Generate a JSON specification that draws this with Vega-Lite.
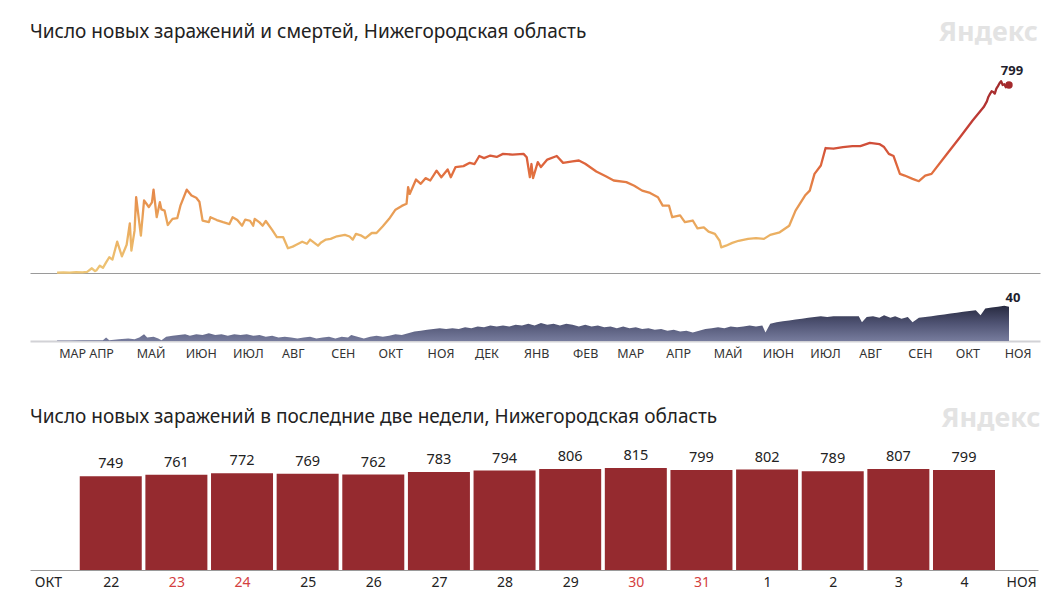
{
  "$schema": "https://vega.github.io/schema/vega-lite/v6.json",
  "background": "white",
  "padding": {"left": 30, "top": 18, "right": 8, "bottom": 0},
  "bounds": "flush",
  "spacing": 29,
  "title": {"text": "Яндекс", "anchor": "end", "offset": -44.6, "dx": -2, "font": "Noto Sans", "fontSize": 27, "fontWeight": "bold", "color": "#e3e3e3", "baseline": "alphabetic"},
  "config": {
    "view": {"stroke": null},
    "font": "Noto Sans",
    "title": {"font": "Noto Sans", "fontSize": 19, "fontWeight": "normal", "color": "#222222", "anchor": "start", "baseline": "alphabetic"}
  },
  "datasets": {
    "cases": [
      {"date": "2020-03-12", "cases": 2}, {"date": "2020-03-16", "cases": 3}, {"date": "2020-03-20", "cases": 2}, {"date": "2020-03-24", "cases": 4},
      {"date": "2020-03-28", "cases": 3}, {"date": "2020-03-31", "cases": 5}, {"date": "2020-04-03", "cases": 20}, {"date": "2020-04-05", "cases": 8},
      {"date": "2020-04-06", "cases": 12}, {"date": "2020-04-08", "cases": 31}, {"date": "2020-04-10", "cases": 22}, {"date": "2020-04-12", "cases": 45},
      {"date": "2020-04-14", "cases": 67}, {"date": "2020-04-16", "cases": 57}, {"date": "2020-04-19", "cases": 133}, {"date": "2020-04-22", "cases": 71},
      {"date": "2020-04-25", "cases": 120}, {"date": "2020-04-27", "cases": 211}, {"date": "2020-04-28", "cases": 95}, {"date": "2020-04-30", "cases": 180},
      {"date": "2020-05-01", "cases": 322}, {"date": "2020-05-04", "cases": 159}, {"date": "2020-05-06", "cases": 308}, {"date": "2020-05-08", "cases": 290},
      {"date": "2020-05-09", "cases": 280}, {"date": "2020-05-11", "cases": 300}, {"date": "2020-05-12", "cases": 354}, {"date": "2020-05-14", "cases": 237},
      {"date": "2020-05-16", "cases": 301}, {"date": "2020-05-17", "cases": 270}, {"date": "2020-05-19", "cases": 265}, {"date": "2020-05-21", "cases": 204},
      {"date": "2020-05-24", "cases": 230}, {"date": "2020-05-27", "cases": 233}, {"date": "2020-05-29", "cases": 286}, {"date": "2020-06-02", "cases": 354},
      {"date": "2020-06-05", "cases": 329}, {"date": "2020-06-08", "cases": 320}, {"date": "2020-06-10", "cases": 303}, {"date": "2020-06-12", "cases": 223},
      {"date": "2020-06-16", "cases": 216}, {"date": "2020-06-17", "cases": 237}, {"date": "2020-06-21", "cases": 225}, {"date": "2020-06-25", "cases": 216},
      {"date": "2020-06-29", "cases": 208}, {"date": "2020-07-01", "cases": 237}, {"date": "2020-07-04", "cases": 225}, {"date": "2020-07-07", "cases": 201},
      {"date": "2020-07-09", "cases": 227}, {"date": "2020-07-12", "cases": 222}, {"date": "2020-07-14", "cases": 201}, {"date": "2020-07-15", "cases": 230},
      {"date": "2020-07-18", "cases": 215}, {"date": "2020-07-20", "cases": 201}, {"date": "2020-07-22", "cases": 221}, {"date": "2020-07-26", "cases": 183},
      {"date": "2020-07-29", "cases": 152}, {"date": "2020-08-02", "cases": 152}, {"date": "2020-08-05", "cases": 105}, {"date": "2020-08-08", "cases": 112},
      {"date": "2020-08-10", "cases": 119}, {"date": "2020-08-14", "cases": 133}, {"date": "2020-08-17", "cases": 124}, {"date": "2020-08-19", "cases": 142},
      {"date": "2020-08-24", "cases": 116}, {"date": "2020-08-26", "cases": 130}, {"date": "2020-08-29", "cases": 142}, {"date": "2020-09-01", "cases": 145},
      {"date": "2020-09-05", "cases": 156}, {"date": "2020-09-10", "cases": 162}, {"date": "2020-09-13", "cases": 155}, {"date": "2020-09-15", "cases": 142},
      {"date": "2020-09-17", "cases": 166}, {"date": "2020-09-20", "cases": 160}, {"date": "2020-09-23", "cases": 148}, {"date": "2020-09-27", "cases": 170},
      {"date": "2020-09-30", "cases": 170}, {"date": "2020-10-04", "cases": 199}, {"date": "2020-10-08", "cases": 230}, {"date": "2020-10-12", "cases": 269},
      {"date": "2020-10-16", "cases": 285}, {"date": "2020-10-19", "cases": 294}, {"date": "2020-10-20", "cases": 365}, {"date": "2020-10-21", "cases": 336},
      {"date": "2020-10-25", "cases": 397}, {"date": "2020-10-28", "cases": 379}, {"date": "2020-10-31", "cases": 403}, {"date": "2020-11-03", "cases": 393},
      {"date": "2020-11-07", "cases": 435}, {"date": "2020-11-10", "cases": 407}, {"date": "2020-11-14", "cases": 440}, {"date": "2020-11-16", "cases": 407},
      {"date": "2020-11-19", "cases": 450}, {"date": "2020-11-24", "cases": 454}, {"date": "2020-11-28", "cases": 468}, {"date": "2020-12-01", "cases": 463},
      {"date": "2020-12-04", "cases": 497}, {"date": "2020-12-07", "cases": 488}, {"date": "2020-12-11", "cases": 499}, {"date": "2020-12-15", "cases": 493},
      {"date": "2020-12-19", "cases": 506}, {"date": "2020-12-25", "cases": 503}, {"date": "2021-01-01", "cases": 506}, {"date": "2021-01-03", "cases": 492},
      {"date": "2021-01-05", "cases": 407}, {"date": "2021-01-06", "cases": 463}, {"date": "2021-01-07", "cases": 403}, {"date": "2021-01-10", "cases": 471},
      {"date": "2021-01-12", "cases": 450}, {"date": "2021-01-16", "cases": 482}, {"date": "2021-01-22", "cases": 497}, {"date": "2021-01-26", "cases": 468},
      {"date": "2021-02-01", "cases": 474}, {"date": "2021-02-05", "cases": 478}, {"date": "2021-02-09", "cases": 464}, {"date": "2021-02-16", "cases": 431},
      {"date": "2021-02-22", "cases": 411}, {"date": "2021-02-27", "cases": 393}, {"date": "2021-03-07", "cases": 386}, {"date": "2021-03-12", "cases": 371},
      {"date": "2021-03-17", "cases": 350}, {"date": "2021-03-22", "cases": 340}, {"date": "2021-03-27", "cases": 322}, {"date": "2021-03-30", "cases": 286},
      {"date": "2021-04-03", "cases": 286}, {"date": "2021-04-05", "cases": 237}, {"date": "2021-04-10", "cases": 245}, {"date": "2021-04-13", "cases": 216},
      {"date": "2021-04-18", "cases": 223}, {"date": "2021-04-21", "cases": 190}, {"date": "2021-04-25", "cases": 194}, {"date": "2021-04-28", "cases": 176},
      {"date": "2021-05-02", "cases": 166}, {"date": "2021-05-05", "cases": 137}, {"date": "2021-05-06", "cases": 109}, {"date": "2021-05-09", "cases": 116},
      {"date": "2021-05-13", "cases": 128}, {"date": "2021-05-17", "cases": 137}, {"date": "2021-05-23", "cases": 145}, {"date": "2021-05-28", "cases": 148},
      {"date": "2021-06-02", "cases": 145}, {"date": "2021-06-06", "cases": 162}, {"date": "2021-06-12", "cases": 173}, {"date": "2021-06-18", "cases": 201},
      {"date": "2021-06-22", "cases": 265}, {"date": "2021-06-28", "cases": 329}, {"date": "2021-07-01", "cases": 350}, {"date": "2021-07-04", "cases": 421},
      {"date": "2021-07-08", "cases": 457}, {"date": "2021-07-11", "cases": 531}, {"date": "2021-07-16", "cases": 528}, {"date": "2021-07-22", "cases": 535},
      {"date": "2021-07-28", "cases": 539}, {"date": "2021-08-02", "cases": 539}, {"date": "2021-08-08", "cases": 553}, {"date": "2021-08-14", "cases": 548},
      {"date": "2021-08-17", "cases": 535}, {"date": "2021-08-20", "cases": 506}, {"date": "2021-08-23", "cases": 497}, {"date": "2021-08-27", "cases": 421},
      {"date": "2021-08-30", "cases": 414}, {"date": "2021-09-04", "cases": 400}, {"date": "2021-09-08", "cases": 390}, {"date": "2021-09-12", "cases": 414},
      {"date": "2021-09-16", "cases": 421}, {"date": "2021-09-25", "cases": 499}, {"date": "2021-10-04", "cases": 577}, {"date": "2021-10-12", "cases": 648},
      {"date": "2021-10-19", "cases": 705}, {"date": "2021-10-21", "cases": 729}, {"date": "2021-10-22", "cases": 749}, {"date": "2021-10-23", "cases": 761},
      {"date": "2021-10-24", "cases": 772}, {"date": "2021-10-25", "cases": 769}, {"date": "2021-10-26", "cases": 762}, {"date": "2021-10-27", "cases": 783},
      {"date": "2021-10-28", "cases": 794}, {"date": "2021-10-29", "cases": 806}, {"date": "2021-10-30", "cases": 815}, {"date": "2021-10-31", "cases": 799},
      {"date": "2021-11-01", "cases": 802}, {"date": "2021-11-02", "cases": 789}, {"date": "2021-11-03", "cases": 807}, {"date": "2021-11-04", "cases": 799}
    ],
    "deaths": [
      {"date": "2020-03-12", "deaths": 0.5}, {"date": "2020-03-20", "deaths": 0.5}, {"date": "2020-03-28", "deaths": 1}, {"date": "2020-04-04", "deaths": 1},
      {"date": "2020-04-10", "deaths": 1}, {"date": "2020-04-12", "deaths": 4}, {"date": "2020-04-14", "deaths": 1}, {"date": "2020-04-20", "deaths": 2},
      {"date": "2020-04-26", "deaths": 3}, {"date": "2020-04-30", "deaths": 2}, {"date": "2020-05-03", "deaths": 4}, {"date": "2020-05-06", "deaths": 8},
      {"date": "2020-05-08", "deaths": 4}, {"date": "2020-05-12", "deaths": 5}, {"date": "2020-05-15", "deaths": 3}, {"date": "2020-05-17", "deaths": 1},
      {"date": "2020-05-20", "deaths": 5}, {"date": "2020-05-24", "deaths": 6}, {"date": "2020-05-28", "deaths": 7}, {"date": "2020-06-01", "deaths": 8},
      {"date": "2020-06-04", "deaths": 6}, {"date": "2020-06-08", "deaths": 8}, {"date": "2020-06-12", "deaths": 7}, {"date": "2020-06-16", "deaths": 9},
      {"date": "2020-06-20", "deaths": 7}, {"date": "2020-06-24", "deaths": 8}, {"date": "2020-06-28", "deaths": 6}, {"date": "2020-07-02", "deaths": 8},
      {"date": "2020-07-06", "deaths": 7}, {"date": "2020-07-10", "deaths": 8}, {"date": "2020-07-14", "deaths": 6}, {"date": "2020-07-18", "deaths": 7},
      {"date": "2020-07-22", "deaths": 5}, {"date": "2020-07-26", "deaths": 6}, {"date": "2020-07-30", "deaths": 4}, {"date": "2020-08-03", "deaths": 5},
      {"date": "2020-08-07", "deaths": 4}, {"date": "2020-08-11", "deaths": 3}, {"date": "2020-08-15", "deaths": 4}, {"date": "2020-08-19", "deaths": 5},
      {"date": "2020-08-23", "deaths": 3}, {"date": "2020-08-27", "deaths": 4}, {"date": "2020-08-31", "deaths": 5}, {"date": "2020-09-04", "deaths": 3},
      {"date": "2020-09-08", "deaths": 5}, {"date": "2020-09-12", "deaths": 4}, {"date": "2020-09-14", "deaths": 7}, {"date": "2020-09-18", "deaths": 5},
      {"date": "2020-09-22", "deaths": 3}, {"date": "2020-09-26", "deaths": 5}, {"date": "2020-09-30", "deaths": 6}, {"date": "2020-10-04", "deaths": 5},
      {"date": "2020-10-08", "deaths": 6}, {"date": "2020-10-12", "deaths": 8}, {"date": "2020-10-16", "deaths": 7}, {"date": "2020-10-20", "deaths": 9},
      {"date": "2020-10-24", "deaths": 11}, {"date": "2020-10-28", "deaths": 12}, {"date": "2020-11-01", "deaths": 13}, {"date": "2020-11-05", "deaths": 14},
      {"date": "2020-11-09", "deaths": 15}, {"date": "2020-11-13", "deaths": 14}, {"date": "2020-11-17", "deaths": 15}, {"date": "2020-11-21", "deaths": 14},
      {"date": "2020-11-25", "deaths": 16}, {"date": "2020-11-29", "deaths": 15}, {"date": "2020-12-03", "deaths": 17}, {"date": "2020-12-07", "deaths": 16},
      {"date": "2020-12-11", "deaths": 18}, {"date": "2020-12-15", "deaths": 17}, {"date": "2020-12-19", "deaths": 18}, {"date": "2020-12-23", "deaths": 17},
      {"date": "2020-12-27", "deaths": 19}, {"date": "2020-12-31", "deaths": 18}, {"date": "2021-01-04", "deaths": 20}, {"date": "2021-01-08", "deaths": 18},
      {"date": "2021-01-12", "deaths": 21}, {"date": "2021-01-16", "deaths": 19}, {"date": "2021-01-20", "deaths": 20}, {"date": "2021-01-24", "deaths": 18},
      {"date": "2021-01-28", "deaths": 20}, {"date": "2021-02-01", "deaths": 19}, {"date": "2021-02-05", "deaths": 17}, {"date": "2021-02-09", "deaths": 19},
      {"date": "2021-02-13", "deaths": 17}, {"date": "2021-02-17", "deaths": 18}, {"date": "2021-02-21", "deaths": 16}, {"date": "2021-02-25", "deaths": 17},
      {"date": "2021-03-01", "deaths": 15}, {"date": "2021-03-05", "deaths": 17}, {"date": "2021-03-09", "deaths": 15}, {"date": "2021-03-13", "deaths": 16},
      {"date": "2021-03-17", "deaths": 14}, {"date": "2021-03-21", "deaths": 15}, {"date": "2021-03-25", "deaths": 13}, {"date": "2021-03-29", "deaths": 14},
      {"date": "2021-04-02", "deaths": 12}, {"date": "2021-04-06", "deaths": 13}, {"date": "2021-04-10", "deaths": 11}, {"date": "2021-04-14", "deaths": 12},
      {"date": "2021-04-18", "deaths": 10}, {"date": "2021-04-22", "deaths": 12}, {"date": "2021-04-26", "deaths": 14}, {"date": "2021-04-30", "deaths": 15},
      {"date": "2021-05-04", "deaths": 16}, {"date": "2021-05-08", "deaths": 15}, {"date": "2021-05-12", "deaths": 17}, {"date": "2021-05-16", "deaths": 16},
      {"date": "2021-05-20", "deaths": 17}, {"date": "2021-05-24", "deaths": 18}, {"date": "2021-05-28", "deaths": 17}, {"date": "2021-06-01", "deaths": 18},
      {"date": "2021-06-03", "deaths": 10}, {"date": "2021-06-06", "deaths": 20}, {"date": "2021-06-10", "deaths": 22}, {"date": "2021-06-14", "deaths": 23},
      {"date": "2021-06-18", "deaths": 24}, {"date": "2021-06-22", "deaths": 25}, {"date": "2021-06-26", "deaths": 26}, {"date": "2021-06-30", "deaths": 27},
      {"date": "2021-07-04", "deaths": 28}, {"date": "2021-07-08", "deaths": 29}, {"date": "2021-07-12", "deaths": 28}, {"date": "2021-07-16", "deaths": 29},
      {"date": "2021-07-20", "deaths": 29}, {"date": "2021-07-24", "deaths": 29}, {"date": "2021-07-28", "deaths": 29}, {"date": "2021-08-01", "deaths": 29},
      {"date": "2021-08-03", "deaths": 22}, {"date": "2021-08-06", "deaths": 28}, {"date": "2021-08-10", "deaths": 29}, {"date": "2021-08-14", "deaths": 27},
      {"date": "2021-08-17", "deaths": 30}, {"date": "2021-08-21", "deaths": 27}, {"date": "2021-08-24", "deaths": 29}, {"date": "2021-08-28", "deaths": 26},
      {"date": "2021-09-01", "deaths": 28}, {"date": "2021-09-04", "deaths": 22}, {"date": "2021-09-08", "deaths": 27}, {"date": "2021-09-12", "deaths": 28},
      {"date": "2021-09-16", "deaths": 29}, {"date": "2021-09-20", "deaths": 30}, {"date": "2021-09-24", "deaths": 31}, {"date": "2021-09-28", "deaths": 32},
      {"date": "2021-10-02", "deaths": 33}, {"date": "2021-10-06", "deaths": 34}, {"date": "2021-10-10", "deaths": 35}, {"date": "2021-10-14", "deaths": 36},
      {"date": "2021-10-17", "deaths": 30}, {"date": "2021-10-20", "deaths": 38}, {"date": "2021-10-24", "deaths": 39}, {"date": "2021-10-28", "deaths": 40},
      {"date": "2021-11-01", "deaths": 41}, {"date": "2021-11-04", "deaths": 40}
    ],
    "latest": [{"date": "2021-11-04", "cases": 799, "deaths": 40}],
    "twoweeks": [
      {"date": "2021-10-22", "cases": 749}, {"date": "2021-10-23", "cases": 761}, {"date": "2021-10-24", "cases": 772}, {"date": "2021-10-25", "cases": 769},
      {"date": "2021-10-26", "cases": 762}, {"date": "2021-10-27", "cases": 783}, {"date": "2021-10-28", "cases": 794}, {"date": "2021-10-29", "cases": 806},
      {"date": "2021-10-30", "cases": 815}, {"date": "2021-10-31", "cases": 799}, {"date": "2021-11-01", "cases": 802}, {"date": "2021-11-02", "cases": 789},
      {"date": "2021-11-03", "cases": 807}, {"date": "2021-11-04", "cases": 799}
    ]
  },
  "vconcat": [
    {
      "title": {"text": "Число новых заражений и смертей, Нижегородская область", "offset": 22.7},
      "width": 1010,
      "height": 193,
      "encoding": {
        "x": {"field": "date", "type": "temporal",
          "scale": {"type": "utc", "domain": [{"year": 2020, "month": 2, "date": 23, "hours": 21, "utc": true}, {"year": 2021, "month": 11, "date": 23, "hours": 14, "minutes": 24, "utc": true}]},
          "axis": {"labels": false, "ticks": false, "grid": false, "domain": true, "domainColor": "#9a9a9a", "domainWidth": 1, "title": null}},
        "y": {"field": "cases", "type": "quantitative", "scale": {"domain": [0, 820]}, "axis": null}
      },
      "layer": [
        {"data": {"name": "cases"},
         "mark": {"type": "line", "strokeWidth": 2.3, "strokeJoin": "round",
           "color": {"gradient": "linear", "x1": 0, "y1": 1, "x2": 0, "y2": 0,
             "stops": [
               {"offset": 0, "color": "#eec677"},
               {"offset": 0.2, "color": "#ebb062"},
               {"offset": 0.4, "color": "#e68d4c"},
               {"offset": 0.55, "color": "#e0693d"},
               {"offset": 0.7, "color": "#cc4737"},
               {"offset": 0.85, "color": "#b83533"},
               {"offset": 1, "color": "#9f2a2c"}
             ]}}},
        {"data": {"name": "latest"}, "mark": {"type": "circle", "size": 55, "color": "#a42a2d", "opacity": 1}},
        {"data": {"name": "latest"}, "mark": {"type": "text", "dy": -14, "dx": 3, "fontSize": 13, "fontWeight": "bold", "color": "#1f1f2e"},
         "encoding": {"text": {"field": "cases", "type": "quantitative"}}}
      ]
    },
    {
      "width": 1010,
      "height": 39,
      "encoding": {
        "x": {"field": "date", "type": "temporal",
          "scale": {"type": "utc", "domain": [{"year": 2020, "month": 2, "date": 23, "hours": 21, "utc": true}, {"year": 2021, "month": 11, "date": 23, "hours": 14, "minutes": 24, "utc": true}]},
          "axis": {
            "title": "Яндекс", "titleFont": "Noto Sans", "titleFontSize": 27, "titleFontWeight": "bold", "titleColor": "#e3e3e3",
            "titleAnchor": "end", "titleAlign": "right", "titleBaseline": "top", "titlePadding": 46,
            "grid": false, "ticks": false, "domainColor": "#d2d2d6", "domainWidth": 2,
            "labelFont": "Noto Sans", "labelFontSize": 12.5, "labelColor": "#333333", "labelAlign": "left", "labelBaseline": "top", "labelPadding": 6,
            "labelOverlap": false, "labelFlush": false, "labelBound": false,
            "values": [
              {"year": 2020, "month": 3, "date": 13, "utc": true}, {"year": 2020, "month": 4, "date": 1, "utc": true}, {"year": 2020, "month": 5, "date": 1, "utc": true},
              {"year": 2020, "month": 6, "date": 1, "utc": true}, {"year": 2020, "month": 7, "date": 1, "utc": true}, {"year": 2020, "month": 8, "date": 1, "utc": true},
              {"year": 2020, "month": 9, "date": 1, "utc": true}, {"year": 2020, "month": 10, "date": 1, "utc": true}, {"year": 2020, "month": 11, "date": 1, "utc": true},
              {"year": 2020, "month": 12, "date": 1, "utc": true}, {"year": 2021, "month": 1, "date": 1, "utc": true}, {"year": 2021, "month": 2, "date": 1, "utc": true},
              {"year": 2021, "month": 3, "date": 1, "utc": true}, {"year": 2021, "month": 4, "date": 1, "utc": true}, {"year": 2021, "month": 5, "date": 1, "utc": true},
              {"year": 2021, "month": 6, "date": 1, "utc": true}, {"year": 2021, "month": 7, "date": 1, "utc": true}, {"year": 2021, "month": 8, "date": 1, "utc": true},
              {"year": 2021, "month": 9, "date": 1, "utc": true}, {"year": 2021, "month": 10, "date": 1, "utc": true}, {"year": 2021, "month": 11, "date": 1, "utc": true}
            ],
            "labelExpr": "['ЯНВ','ФЕВ','МАР','АПР','МАЙ','ИЮН','ИЮЛ','АВГ','СЕН','ОКТ','НОЯ','ДЕК'][utcmonth(datum.value)]"
          }},
        "y": {"field": "deaths", "type": "quantitative", "scale": {"domain": [0, 45.5]}, "axis": null}
      },
      "layer": [
        {"data": {"name": "deaths"},
         "mark": {"type": "area", "interpolate": "linear",
           "color": {"gradient": "linear", "x1": 0, "y1": 0, "x2": 0, "y2": 1,
             "stops": [
               {"offset": 0, "color": "#272a40"},
               {"offset": 0.5, "color": "#4f5373"},
               {"offset": 1, "color": "#777c9d"}
             ]}}},
        {"data": {"name": "latest"}, "mark": {"type": "text", "dy": -9, "dx": 4, "fontSize": 13, "fontWeight": "bold", "color": "#1f1f2e"},
         "encoding": {"text": {"field": "deaths", "type": "quantitative"}}}
      ]
    },
    {
      "title": {"text": "Число новых заражений в последние две недели, Нижегородская область", "offset": -57},
      "width": 1008,
      "height": 200,
      "data": {"name": "twoweeks"},
      "encoding": {
        "x": {"field": "date", "type": "temporal",
          "scale": {"type": "utc", "domain": [{"year": 2021, "month": 10, "date": 20, "hours": 20, "minutes": 18, "utc": true}, {"year": 2021, "month": 11, "date": 5, "hours": 1, "minutes": 14, "utc": true}]},
          "axis": {
            "title": null, "grid": false, "ticks": false, "domainColor": "#9a9a9a", "domainWidth": 1,
            "labelFont": "Noto Sans", "labelFontSize": 14, "labelBaseline": "top", "labelPadding": 5,
            "labelOverlap": false, "labelFlush": false, "labelBound": false,
            "labelColor": {"condition": {"test": "utchours(datum.value) == 0 && indexof([23, 24, 30, 31], utcdate(datum.value)) >= 0", "value": "#d4403f"}, "value": "#222222"},
            "values": [
              {"year": 2021, "month": 10, "date": 21, "hours": 1, "utc": true},
              {"year": 2021, "month": 10, "date": 22, "utc": true}, {"year": 2021, "month": 10, "date": 23, "utc": true}, {"year": 2021, "month": 10, "date": 24, "utc": true},
              {"year": 2021, "month": 10, "date": 25, "utc": true}, {"year": 2021, "month": 10, "date": 26, "utc": true}, {"year": 2021, "month": 10, "date": 27, "utc": true},
              {"year": 2021, "month": 10, "date": 28, "utc": true}, {"year": 2021, "month": 10, "date": 29, "utc": true}, {"year": 2021, "month": 10, "date": 30, "utc": true},
              {"year": 2021, "month": 10, "date": 31, "utc": true}, {"year": 2021, "month": 11, "date": 1, "utc": true}, {"year": 2021, "month": 11, "date": 2, "utc": true},
              {"year": 2021, "month": 11, "date": 3, "utc": true}, {"year": 2021, "month": 11, "date": 4, "utc": true},
              {"year": 2021, "month": 11, "date": 4, "hours": 20, "minutes": 53, "utc": true}
            ],
            "labelExpr": "utchours(datum.value) == 1 ? 'ОКТ' : (utchours(datum.value) > 12 ? 'НОЯ' : '' + utcdate(datum.value))"
          }},
        "y": {"field": "cases", "type": "quantitative", "scale": {"domain": [0, 1597]}, "axis": null}
      },
      "layer": [
        {"mark": {"type": "bar", "width": 62, "color": "#952a2f"}},
        {"mark": {"type": "text", "baseline": "bottom", "dy": -5, "fontSize": 14.5, "color": "#222222"},
         "encoding": {"text": {"field": "cases", "type": "quantitative"}}}
      ]
    }
  ]
}
